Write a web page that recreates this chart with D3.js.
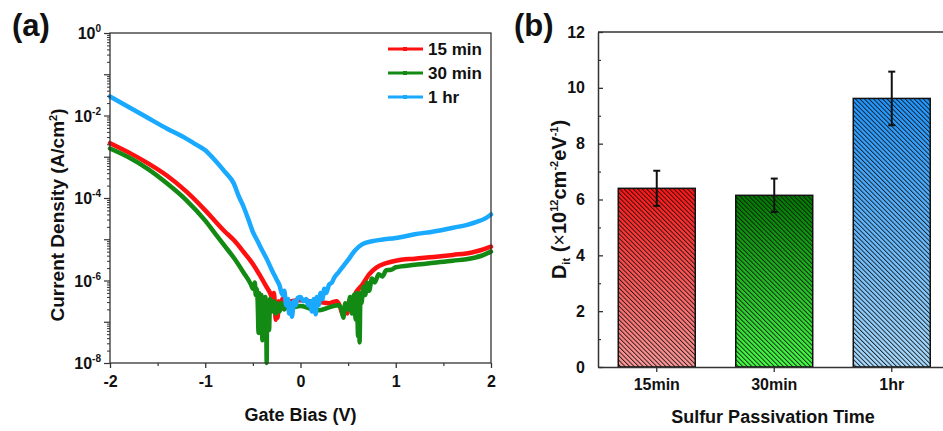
<!DOCTYPE html>
<html>
<head>
<meta charset="utf-8">
<script src="https://cdn.jsdelivr.net/npm/d3@7"></script>
<style>
  body { margin: 0; background: #fff; }
  text { font-family: Arial, "Liberation Sans", sans-serif; font-weight: bold; fill: #111; }
</style>
</head>
<body>
<svg id="fig"></svg>
<script>
// ---- panel (a): J-V curves, log10 of current density (A/cm2) ----
const bias15 = [-2.00, -1.80, -1.60, -1.40, -1.20, -1.00, -0.90, -0.80, -0.70, -0.60, -0.50, -0.42, -0.35, -0.32, -0.30,
  -0.28, -0.27, -0.26, -0.25, -0.24, -0.23, -0.21, -0.19, -0.15, -0.10, 0.00, 0.10, 0.20, 0.30, 0.38, 0.41, 0.43, 0.45,
  0.47, 0.49, 0.51, 0.55, 0.58, 0.65, 0.72, 0.80, 0.90, 1.00, 1.20, 1.40, 1.60, 1.80, 1.90, 2.00];
const logJ15 = [-2.67, -2.90, -3.16, -3.46, -3.84, -4.30, -4.55, -4.80, -5.02, -5.30, -5.60, -5.90, -6.18, -6.30, -6.40,
  -6.30, -6.55, -6.95, -6.55, -6.90, -6.50, -6.70, -6.45, -6.55, -6.50, -6.48, -6.50, -6.52, -6.55, -6.50, -6.60, -6.75, -6.85,
  -6.65, -6.80, -6.50, -6.45, -6.30, -6.10, -5.85, -5.68, -5.58, -5.52, -5.47, -5.43, -5.38, -5.32, -5.26, -5.18];

const bias30 = [-2.00, -1.80, -1.60, -1.40, -1.20, -1.00, -0.90, -0.80, -0.70, -0.60, -0.52, -0.50, -0.48, -0.47, -0.46,
  -0.45, -0.44, -0.435, -0.42, -0.41, -0.40, -0.395, -0.38, -0.37, -0.36, -0.355, -0.35, -0.34, -0.33, -0.32, -0.30,
  -0.28, -0.26, -0.24, -0.22, -0.20, -0.17, -0.14, -0.10, 0.00, 0.10, 0.20, 0.30, 0.40, 0.43, 0.45, 0.47, 0.50, 0.52,
  0.54, 0.56, 0.58, 0.59, 0.605, 0.615, 0.62, 0.63, 0.64, 0.66, 0.68, 0.70, 0.72, 0.75, 0.78, 0.82, 0.86, 0.90, 0.95,
  1.00, 1.20, 1.40, 1.60, 1.80, 1.90, 2.00];
const logJ30 = [-2.80, -3.02, -3.30, -3.65, -4.05, -4.55, -4.85, -5.15, -5.45, -5.80, -6.10, -6.20, -6.05, -6.35, -6.20,
  -6.50, -7.27, -6.30, -6.60, -6.35, -7.45, -6.45, -6.75, -6.40, -6.90, -8.00, -6.50, -6.80, -7.20, -6.45, -6.75,
  -6.50, -6.80, -6.55, -6.75, -6.55, -6.70, -6.60, -6.65, -6.62, -6.68, -6.72, -6.65, -6.60, -6.70, -6.90, -6.55, -6.70, -6.40,
  -6.80, -6.35, -6.95, -6.30, -7.35, -6.35, -7.50, -6.30, -6.55, -6.15, -6.35, -6.05, -6.25, -5.95, -6.05, -5.85, -5.90, -5.75, -5.74,
  -5.68, -5.62, -5.57, -5.52, -5.46, -5.40, -5.30];

const biasHr = [-2.00, -1.80, -1.60, -1.40, -1.20, -1.10, -1.00, -0.90, -0.80, -0.70, -0.65, -0.60, -0.55, -0.50, -0.45,
  -0.40, -0.35, -0.30, -0.25, -0.22, -0.19, -0.17, -0.15, -0.13, -0.12, -0.10, -0.09, -0.07, -0.05, -0.03, 0.00, 0.03,
  0.06, 0.08, 0.10, 0.12, 0.14, 0.16, 0.17, 0.19, 0.21, 0.23, 0.25, 0.27, 0.30, 0.33, 0.35, 0.40, 0.45, 0.50, 0.57,
  0.65, 0.75, 0.85, 1.00, 1.20, 1.40, 1.60, 1.75, 1.85, 1.95, 2.00];
const logJHr = [-1.54, -1.80, -2.06, -2.32, -2.56, -2.70, -2.84, -3.08, -3.35, -3.65, -3.95, -4.20, -4.50, -4.82, -5.05,
  -5.28, -5.50, -5.75, -5.98, -6.12, -6.35, -6.25, -6.60, -6.45, -6.80, -6.55, -6.88, -6.50, -6.60, -6.42, -6.40, -6.50,
  -6.45, -6.60, -6.50, -6.75, -6.45, -6.82, -6.40, -6.60, -6.30, -6.45, -6.20, -6.30, -6.10, -6.05, -5.95, -5.80, -5.65, -5.50, -5.28,
  -5.12, -5.05, -5.01, -4.97, -4.88, -4.81, -4.72, -4.65, -4.58, -4.48, -4.40];

const seriesNames = ["15 min", "30 min", "1 hr"];
const seriesColors = ["#ff1010", "#138a13", "#19a9ff"];

// ---- panel (b): Dit bars ----
const passTimes = ["15min", "30min", "1hr"];
const ditValues = [6.40, 6.15, 9.62];
const ditErrors = [0.63, 0.60, 0.96];
const barTop = ["#ff1414", "#007800", "#1e96ff"];
const barBottom = ["#ff9a9a", "#45ff45", "#aadcff"];

const W = 943, H = 431;
const svg = d3.select("#fig").attr("width", W).attr("height", H);
const defs = svg.append("defs");

// ================= panel (a) =================
const ax = d3.scaleLinear().domain([-2, 2]).range([110, 491]);
const ay = d3.scaleLog().domain([1e-8, 1]).range([363, 33]);

const gA = svg.append("g");

// curves
const line = d3.line()
  .x(d => ax(d[0]))
  .y(d => ay(Math.pow(10, d[1])))
  .curve(d3.curveMonotoneX);
const curveData = [
  d3.zip(bias15, logJ15),
  d3.zip(bias30, logJ30),
  d3.zip(biasHr, logJHr)
];
curveData.forEach((pts, i) => {
  gA.append("path")
    .datum(pts)
    .attr("d", line)
    .attr("fill", "none")
    .attr("stroke", seriesColors[i])
    .attr("stroke-width", 4.5)
    .attr("stroke-linejoin", "round")
    .attr("stroke-linecap", "round");
});

// frame
gA.append("rect")
  .attr("x", ax(-2)).attr("y", ay(1))
  .attr("width", ax(2) - ax(-2)).attr("height", ay(1e-8) - ay(1))
  .attr("fill", "none").attr("stroke", "#333").attr("stroke-width", 1.3);

// x axis
const xa = gA.append("g").attr("transform", `translate(0,${ay(1e-8)})`)
  .call(d3.axisBottom(ax).tickValues([-2, -1, 0, 1, 2]).tickSize(5).tickFormat(d => String(d)));
xa.select(".domain").remove();
xa.selectAll("line").attr("stroke", "#333").attr("stroke-width", 1.3);
xa.selectAll("text").attr("y", 13).attr("font-size", 16).attr("fill", "#111");
const xam = gA.append("g").attr("transform", `translate(0,${ay(1e-8)})`)
  .call(d3.axisBottom(ax).tickValues([-1.5, -0.5, 0.5, 1.5]).tickSize(3).tickFormat(""));
xam.select(".domain").remove();
xam.selectAll("line").attr("stroke", "#333").attr("stroke-width", 1.2);

// y axis (log)
const decades = d3.range(-8, 1).map(k => Math.pow(10, k));
const minors = [];
d3.range(-8, 0).forEach(k => { for (let m = 2; m <= 9; m++) minors.push(m * Math.pow(10, k)); });
const ya = gA.append("g").attr("transform", `translate(${ax(-2)},0)`)
  .call(d3.axisLeft(ay).tickValues(decades).tickSize(6).tickFormat(""));
ya.select(".domain").remove();
ya.selectAll("line").attr("stroke", "#333").attr("stroke-width", 1.2);
const yam = gA.append("g").attr("transform", `translate(${ax(-2)},0)`)
  .call(d3.axisLeft(ay).tickValues(minors).tickSize(3).tickFormat(""));
yam.select(".domain").remove();
yam.selectAll("line").attr("stroke", "#333").attr("stroke-width", 1);

const yLabelExp = [0, -2, -4, -6, -8];
yLabelExp.forEach(e => {
  const t = gA.append("text")
    .attr("x", ax(-2) - 9)
    .attr("y", ay(Math.pow(10, e)) + 6)
    .attr("text-anchor", "end")
    .attr("font-size", 16);
  t.append("tspan").text("10");
  t.append("tspan").attr("dy", -7).attr("font-size", 10).text(String(e));
});

// axis titles
gA.append("text")
  .attr("x", (ax(-2) + ax(2)) / 2).attr("y", 421)
  .attr("text-anchor", "middle").attr("font-size", 18)
  .text("Gate Bias (V)");
const yt = gA.append("text")
  .attr("transform", `translate(64,${(ay(1) + ay(1e-8)) / 2 + 17}) rotate(-90)`)
  .attr("text-anchor", "middle").attr("font-size", 19);
yt.append("tspan").text("Current Density (A/cm");
yt.append("tspan").attr("dy", -7).attr("font-size", 11).text("2");
yt.append("tspan").attr("dy", 7).text(")");

// legend
seriesNames.forEach((name, i) => {
  const ly = 49 + i * 24;
  gA.append("line").attr("x1", 388).attr("x2", 423).attr("y1", ly).attr("y2", ly)
    .attr("stroke", seriesColors[i]).attr("stroke-width", 3);
  gA.append("rect").attr("x", 403).attr("y", ly - 2).attr("width", 4).attr("height", 4)
    .attr("fill", seriesColors[i]);
  gA.append("text").attr("x", 428).attr("y", ly + 6).attr("font-size", 17).text(name);
});

gA.append("text").attr("x", 12).attr("y", 36).attr("font-size", 31).text("(a)");

// ================= panel (b) =================
const bx = d3.scaleBand().domain(passTimes).range([598, 950.5]).paddingInner(0.345).paddingOuter(0.1725);
const by = d3.scaleLinear().domain([0, 12]).range([367, 32]);
const gB = svg.append("g");

// gradients + hatch
passTimes.forEach((t, i) => {
  const lg = defs.append("linearGradient").attr("id", "grad" + i)
    .attr("x1", 0).attr("y1", 0).attr("x2", 0).attr("y2", 1);
  lg.append("stop").attr("offset", "0%").attr("stop-color", barTop[i]);
  lg.append("stop").attr("offset", "100%").attr("stop-color", barBottom[i]);
});
const hatch = defs.append("pattern").attr("id", "hatch")
  .attr("patternUnits", "userSpaceOnUse").attr("width", 3.2).attr("height", 3.2)
  .attr("patternTransform", "rotate(-45)");
hatch.append("line").attr("x1", 0.5).attr("y1", 0).attr("x2", 0.5).attr("y2", 3.2)
  .attr("stroke", "#111").attr("stroke-width", 0.85);

const bars = gB.selectAll(".bar").data(passTimes).enter().append("g").attr("class", "bar");
bars.append("rect")
  .attr("x", d => bx(d)).attr("y", (d, i) => by(ditValues[i]))
  .attr("width", bx.bandwidth()).attr("height", (d, i) => by(0) - by(ditValues[i]))
  .attr("fill", (d, i) => `url(#grad${i})`);
bars.append("rect")
  .attr("x", d => bx(d)).attr("y", (d, i) => by(ditValues[i]))
  .attr("width", bx.bandwidth()).attr("height", (d, i) => by(0) - by(ditValues[i]))
  .attr("fill", "url(#hatch)")
  .attr("stroke", "#111").attr("stroke-width", 1.5);

// error bars
passTimes.forEach((t, i) => {
  const cx = bx(t) + bx.bandwidth() / 2;
  const hi = by(ditValues[i] + ditErrors[i]), lo = by(ditValues[i] - ditErrors[i]);
  gB.append("line").attr("x1", cx).attr("x2", cx).attr("y1", hi).attr("y2", lo)
    .attr("stroke", "#111").attr("stroke-width", 2);
  [hi, lo].forEach(yy => gB.append("line").attr("x1", cx - 3.5).attr("x2", cx + 3.5)
    .attr("y1", yy).attr("y2", yy).attr("stroke", "#111").attr("stroke-width", 2));
});

// axes
const bxa = gB.append("g").attr("transform", `translate(0,${by(0)})`)
  .call(d3.axisBottom(bx).tickSize(5).tickSizeOuter(0));
bxa.select(".domain").attr("stroke", "#333").attr("stroke-width", 1.5);
bxa.selectAll("line").attr("stroke", "#333").attr("stroke-width", 1.3);
bxa.selectAll("text").attr("y", 12).attr("font-size", 16).attr("fill", "#111");

const bya = gB.append("g").attr("transform", `translate(598,0)`)
  .call(d3.axisLeft(by).tickValues(d3.range(0, 13, 2)).tickSize(-5).tickPadding(13).tickSizeOuter(0));
bya.select(".domain").attr("stroke", "#333").attr("stroke-width", 1.5);
bya.selectAll("line").attr("stroke", "#333").attr("stroke-width", 1.3);
bya.selectAll("text").attr("font-size", 16).attr("fill", "#111");
const byam = gB.append("g").attr("transform", `translate(598,0)`)
  .call(d3.axisLeft(by).tickValues(d3.range(1, 12, 2)).tickSize(-3).tickFormat(""));
byam.select(".domain").remove();
byam.selectAll("line").attr("stroke", "#333").attr("stroke-width", 1.2);

gB.append("line").attr("x1", 598).attr("x2", 950).attr("y1", by(12)).attr("y2", by(12))
  .attr("stroke", "#333").attr("stroke-width", 1.5);

// titles
gB.append("text")
  .attr("x", 773).attr("y", 423)
  .attr("text-anchor", "middle").attr("font-size", 18)
  .text("Sulfur Passivation Time");
const byt = gB.append("text")
  .attr("transform", `translate(566,${(by(0) + by(12)) / 2}) rotate(-90)`)
  .attr("text-anchor", "middle").attr("font-size", 20);
byt.append("tspan").text("D");
byt.append("tspan").attr("dy", 4).attr("font-size", 11).text("it");
byt.append("tspan").attr("dy", -4).text(" (");
byt.append("tspan").attr("font-weight", "normal").text("×");
byt.append("tspan").text("10");
byt.append("tspan").attr("dy", -8).attr("font-size", 11).text("12");
byt.append("tspan").attr("dy", 8).text("cm");
byt.append("tspan").attr("dy", -8).attr("font-size", 11).text("-2");
byt.append("tspan").attr("dy", 8).text("eV");
byt.append("tspan").attr("dy", -8).attr("font-size", 11).text("-1");
byt.append("tspan").attr("dy", 8).text(")");

gB.append("text").attr("x", 514).attr("y", 36).attr("font-size", 31).text("(b)");
</script>
</body>
</html>
